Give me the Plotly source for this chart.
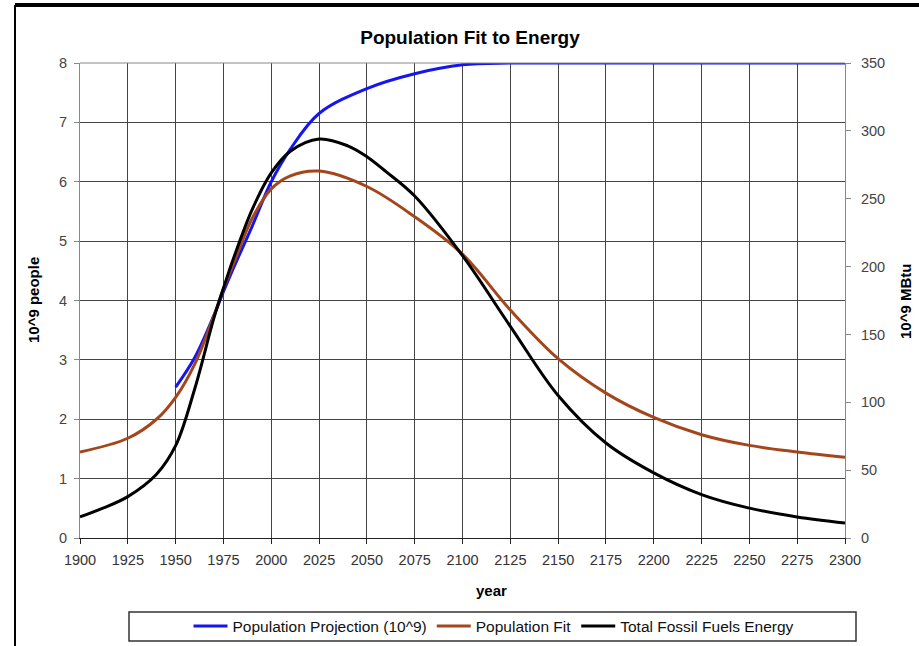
import plotly.graph_objects as go

# ---- data ----
proj_years = [1950, 1960, 1970, 1975, 1980, 1990, 2000, 2010, 2025, 2050, 2075, 2100, 2125, 2150, 2200, 2250, 2300]
proj_pop = [2.54, 3.04, 3.75, 4.15, 4.53, 5.25, 6.0, 6.55, 7.15, 7.57, 7.82, 7.97, 8.0, 8.0, 8.0, 8.0, 8.0]

fit_years = [1900, 1925, 1940, 1950, 1960, 1970, 1975, 1980, 1990, 2000, 2010, 2025, 2050, 2075,
             2100, 2125, 2150, 2175, 2200, 2225, 2250, 2275, 2300]
fit_pop = [1.45, 1.68, 2.0, 2.37, 2.93, 3.74, 4.2, 4.6, 5.38, 5.88, 6.1, 6.18, 5.92, 5.41,
           4.78, 3.84, 3.02, 2.44, 2.03, 1.74, 1.56, 1.45, 1.36]

energy_years = [1900, 1912, 1925, 1940, 1950, 1960, 1970, 1975, 1980, 1990, 2000, 2010, 2025, 2040, 2050, 2060,
                2075, 2100, 2125, 2150, 2175, 2200, 2225, 2250, 2275, 2300]
energy = [15.5, 22, 30.5, 47, 68, 110, 162, 184, 205, 242, 269, 285, 294, 289, 281, 270,
          252, 208, 156, 105, 70, 48, 32, 22, 15.5, 11]

x_ticks = list(range(1900, 2301, 25))

FONT = "Liberation Sans, Arial, sans-serif"

fig = go.Figure()
fig.add_trace(go.Scatter(x=proj_years, y=proj_pop, mode="lines", name="Population Projection (10^9)",
                         line=dict(color="#1515f0", width=3, shape="spline", smoothing=1.0)))
fig.add_trace(go.Scatter(x=fit_years, y=fit_pop, mode="lines", name="Population Fit",
                         line=dict(color="#a4461c", width=3, shape="spline", smoothing=1.0)))
fig.add_trace(go.Scatter(x=energy_years, y=energy, mode="lines", name="Total Fossil Fuels Energy",
                         yaxis="y2", line=dict(color="#000000", width=3, shape="spline", smoothing=1.0)))

W, H = 919, 646
L, R, T, B = 80, 845, 63, 538
pw, ph = R - L, B - T

def px(x):
    return (x - L) / pw

def py(y):
    return (B - y) / ph

fig.update_layout(
    width=W, height=H,
    margin=dict(l=L, r=W - R, t=T, b=H - B, autoexpand=False),
    paper_bgcolor="white", plot_bgcolor="white",
    font=dict(family=FONT, size=14, color="#333"),
    title=dict(text="<b>Population Fit to Energy</b>", x=px(470), xref="paper", xanchor="center",
               y=1 - 37 / H, yanchor="middle", font=dict(size=19, color="#000")),
    xaxis=dict(range=[1900, 2300], tickvals=x_ticks, showgrid=True, gridcolor="#444", gridwidth=1,
               showline=True, linecolor="#222", linewidth=1, mirror=False,
               ticks="outside", ticklen=5, tickcolor="#222", zeroline=False,
               ticklabelstandoff=4, tickfont=dict(size=14.5, color="#333")),
    yaxis=dict(range=[0, 8], dtick=1, showgrid=True, gridcolor="#444", gridwidth=1,
               showline=True, linecolor="#888", linewidth=1, ticks="outside", ticklen=5,
               tickcolor="#888", zeroline=False, ticklabelstandoff=4,
               tickfont=dict(size=14.5, color="#444")),
    yaxis2=dict(range=[0, 350], dtick=50, overlaying="y", side="right", showgrid=False,
                showline=True, linecolor="#888", linewidth=1, ticks="outside", ticklen=5,
                tickcolor="#888", zeroline=False, ticklabelstandoff=7,
                tickfont=dict(size=14.5, color="#444")),
    showlegend=True,
    legend=dict(orientation="h", x=px(494), xanchor="center", y=py(626.5), yanchor="middle",
                borderwidth=0, bgcolor="rgba(0,0,0,0)",
                font=dict(size=15.5, color="#111"), itemwidth=34, traceorder="normal"),
    annotations=[
        dict(text="<b>10^9 people</b>", x=px(33), y=py(300), xref="paper", yref="paper",
             xanchor="center", yanchor="middle",
             showarrow=False, textangle=-90, font=dict(size=15, color="#000")),
        dict(text="<b>10^9 MBtu</b>", x=px(905), y=py(302), xref="paper", yref="paper",
             xanchor="center", yanchor="middle",
             showarrow=False, textangle=-90, font=dict(size=15, color="#000")),
        dict(text="<b>year</b>", x=px(491), y=py(590), xref="paper", yref="paper",
             xanchor="center", yanchor="middle",
             showarrow=False, font=dict(size=15, color="#000")),
    ],
    shapes=[
        dict(type="line", xref="paper", yref="paper", x0=px(15), x1=px(919), y0=py(5), y1=py(5),
             line=dict(color="#000", width=4)),
        dict(type="line", xref="paper", yref="paper", x0=px(15), x1=px(15), y0=py(5), y1=py(646),
             line=dict(color="#000", width=2)),
        dict(type="line", xref="paper", yref="paper", x0=0, x1=1, y0=1, y1=1,
             line=dict(color="#888", width=1)),
        dict(type="rect", xref="paper", yref="paper", x0=px(129), x1=px(856), y0=py(612), y1=py(641),
             line=dict(color="#333", width=1.5), fillcolor="rgba(0,0,0,0)"),
    ],
)

fig.write_html("out.html", config={"displayModeBar": False},
               post_script="document.body.style.margin='0';")
